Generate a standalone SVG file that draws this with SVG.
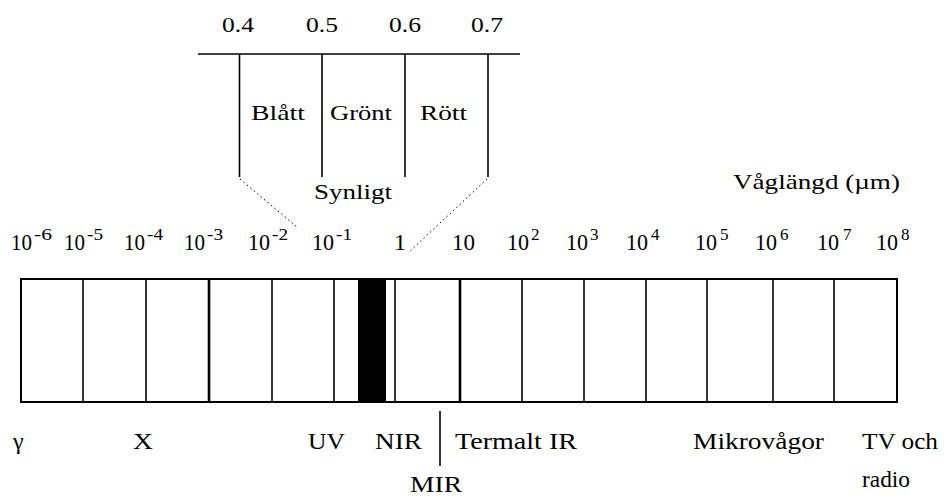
<svg xmlns="http://www.w3.org/2000/svg" width="946" height="499" viewBox="0 0 946 499">
<style>
text{font-family:"Liberation Serif","Times New Roman",serif;fill:#000}
.t{font-size:21px}
.tk{font-size:24px}
.sp{font-size:17px}
.b{font-size:24px}
.ln{stroke:#000;stroke-width:1.6;fill:none}
.thick{stroke:#000;stroke-width:2.6}
.dot{stroke:#000;stroke-width:1;stroke-dasharray:1.5 3;fill:none}
</style>
<rect width="946" height="499" fill="#fff"/>
<g id="visible-scale">
<line class="ln" x1="198" y1="54" x2="520" y2="54"/>
<line class="ln" x1="239.5" y1="54" x2="239.5" y2="177"/>
<line class="ln" x1="322" y1="54" x2="322" y2="177"/>
<line class="ln" x1="405" y1="54" x2="405" y2="177"/>
<line class="ln" x1="488" y1="54" x2="488" y2="177"/>
<text class="t" x="222" y="32" textLength="32" lengthAdjust="spacingAndGlyphs">0.4</text>
<text class="t" x="306" y="32" textLength="32" lengthAdjust="spacingAndGlyphs">0.5</text>
<text class="t" x="389" y="32" textLength="32" lengthAdjust="spacingAndGlyphs">0.6</text>
<text class="t" x="471" y="32" textLength="32" lengthAdjust="spacingAndGlyphs">0.7</text>
<text class="t" x="251" y="120" textLength="54" lengthAdjust="spacingAndGlyphs">Blått</text>
<text class="t" x="330" y="120" textLength="62" lengthAdjust="spacingAndGlyphs">Grönt</text>
<text class="t" x="420" y="120" textLength="47" lengthAdjust="spacingAndGlyphs">Rött</text>
<text class="t" x="314" y="199" textLength="78" lengthAdjust="spacingAndGlyphs">Synligt</text>
</g>
<g id="connectors">
<line class="dot" x1="240" y1="179" x2="297" y2="227"/>
<line class="dot" x1="487" y1="179" x2="408" y2="253"/>
<line class="ln" x1="440" y1="411" x2="440" y2="466"/>
</g>
<g id="axis-title">
<text class="t" x="733" y="189" textLength="167" lengthAdjust="spacingAndGlyphs">Våglängd (µm)</text>
</g>
<g id="ticks">
<text class="tk" x="11" y="250" textLength="21" lengthAdjust="spacingAndGlyphs">10</text><text class="sp" x="34" y="240" textLength="18" lengthAdjust="spacingAndGlyphs">-6</text>
<text class="tk" x="64" y="250" textLength="21" lengthAdjust="spacingAndGlyphs">10</text><text class="sp" x="87" y="240" textLength="16" lengthAdjust="spacingAndGlyphs">-5</text>
<text class="tk" x="124" y="250" textLength="21" lengthAdjust="spacingAndGlyphs">10</text><text class="sp" x="147" y="240" textLength="16" lengthAdjust="spacingAndGlyphs">-4</text>
<text class="tk" x="184" y="250" textLength="21" lengthAdjust="spacingAndGlyphs">10</text><text class="sp" x="207" y="240" textLength="16" lengthAdjust="spacingAndGlyphs">-3</text>
<text class="tk" x="248" y="250" textLength="22" lengthAdjust="spacingAndGlyphs">10</text><text class="sp" x="272" y="240" textLength="16" lengthAdjust="spacingAndGlyphs">-2</text>
<text class="tk" x="312" y="250" textLength="22" lengthAdjust="spacingAndGlyphs">10</text><text class="sp" x="336" y="240" textLength="16" lengthAdjust="spacingAndGlyphs">-1</text>
<text class="tk" x="394" y="250">1</text>
<text class="tk" x="452" y="250" textLength="23" lengthAdjust="spacingAndGlyphs">10</text>
<text class="tk" x="507" y="250" textLength="22" lengthAdjust="spacingAndGlyphs">10</text><text class="sp" x="531" y="240">2</text>
<text class="tk" x="566" y="250" textLength="22" lengthAdjust="spacingAndGlyphs">10</text><text class="sp" x="590" y="240">3</text>
<text class="tk" x="626" y="250" textLength="22" lengthAdjust="spacingAndGlyphs">10</text><text class="sp" x="651" y="240">4</text>
<text class="tk" x="695" y="250" textLength="22" lengthAdjust="spacingAndGlyphs">10</text><text class="sp" x="720" y="240">5</text>
<text class="tk" x="755" y="250" textLength="22" lengthAdjust="spacingAndGlyphs">10</text><text class="sp" x="780" y="240">6</text>
<text class="tk" x="817" y="250" textLength="22" lengthAdjust="spacingAndGlyphs">10</text><text class="sp" x="843" y="240">7</text>
<text class="tk" x="876" y="250" textLength="22" lengthAdjust="spacingAndGlyphs">10</text><text class="sp" x="901" y="240">8</text>
</g>
<g id="spectrum-bar">
<rect x="21" y="279" width="876" height="123" fill="#fff" stroke="#000" stroke-width="2"/>
<rect x="358" y="279" width="28" height="123" fill="#000"/>
<g class="ln">
<line x1="83" y1="279" x2="83" y2="402"/>
<line x1="146" y1="279" x2="146" y2="402"/>
<line x1="272" y1="279" x2="272" y2="402"/>
<line x1="334" y1="279" x2="334" y2="402"/>
<line x1="395" y1="279" x2="395" y2="402"/>
<line x1="522" y1="279" x2="522" y2="402"/>
<line x1="584" y1="279" x2="584" y2="402"/>
<line x1="646" y1="279" x2="646" y2="402"/>
<line x1="707" y1="279" x2="707" y2="402"/>
<line x1="773" y1="279" x2="773" y2="402"/>
<line x1="834" y1="279" x2="834" y2="402"/>
</g>
<line class="thick" x1="209" y1="279" x2="209" y2="402"/>
<line class="thick" x1="460" y1="279" x2="460" y2="402"/>
</g>
<g id="band-labels">
<text class="b" x="13" y="449">γ</text>
<text class="b" x="133" y="449" textLength="20" lengthAdjust="spacingAndGlyphs">X</text>
<text class="b" x="308" y="449" textLength="37" lengthAdjust="spacingAndGlyphs">UV</text>
<text class="b" x="375" y="449" textLength="47" lengthAdjust="spacingAndGlyphs">NIR</text>
<text class="b" x="455" y="449" textLength="122" lengthAdjust="spacingAndGlyphs">Termalt IR</text>
<text class="b" x="693" y="449" textLength="131" lengthAdjust="spacingAndGlyphs">Mikrovågor</text>
<text class="b" x="862" y="449" textLength="76" lengthAdjust="spacingAndGlyphs">TV och</text>
<text class="b" x="862" y="487" textLength="48" lengthAdjust="spacingAndGlyphs">radio</text>
<text class="b" x="410" y="492" textLength="52" lengthAdjust="spacingAndGlyphs">MIR</text>
</g>
</svg>
